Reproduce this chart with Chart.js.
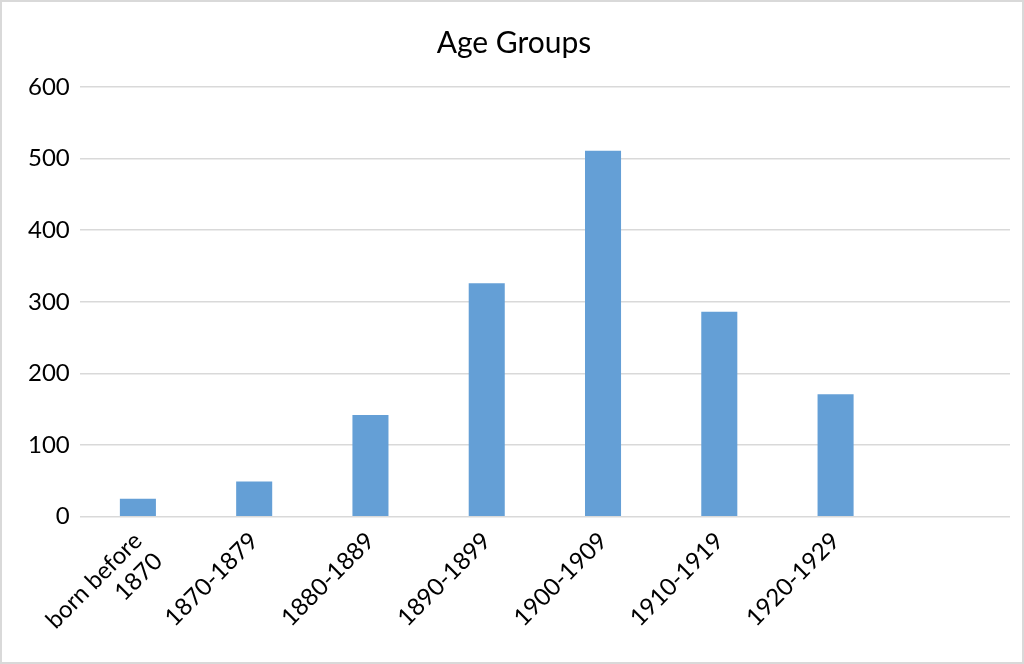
<!DOCTYPE html>
<html>
<head>
<meta charset="utf-8">
<script src="https://cdn.jsdelivr.net/npm/chart.js@4/dist/chart.umd.min.js"></script>
<style>
  html, body { margin: 0; padding: 0; background: #fff; }
  #wrap { width: 1024px; height: 664px; box-sizing: border-box; border: 2px solid #d9d9d9; }
</style>
</head>
<body>
<div id="wrap"><canvas id="ageChart" width="1020" height="660"></canvas></div>
<script>
// chart data
const categories = [['born before', '1870'], '1870-1879', '1880-1889', '1890-1899', '1900-1909', '1910-1919', '1920-1929', ''];
const counts = [25, 49, 142, 326, 511, 286, 171, null];
const yTicks = [0, 100, 200, 300, 400, 500, 600];

function initAgeChart() {
    const ctx = document.getElementById('ageChart').getContext('2d');
    Chart.defaults.font.family = 'Lato, "Open Sans", sans-serif';
    Chart.defaults.color = '#000';
    new Chart(ctx, {
        type: 'bar',
        data: {
            labels: categories,
            datasets: [{
                label: 'Age Groups',
                data: counts,
                backgroundColor: '#649fd6',
                barPercentage: 0.62,
                categoryPercentage: 0.5
            }]
        },
        options: {
            responsive: false,
            animation: false,
            layout: { padding: { left: 16, right: 12, top: 10, bottom: 5 } },
            plugins: {
                legend: { display: false },
                tooltip: { enabled: false },
                title: {
                    display: true,
                    text: 'Age Groups',
                    font: { size: 30, weight: 'normal' },
                    padding: { top: 13, bottom: 26 }
                }
            },
            scales: {
                x: {
                    grid: { display: false },
                    border: { display: false },
                    ticks: {
                        font: { size: 24 },
                        minRotation: 45,
                        maxRotation: 45,
                        autoSkip: false,
                        padding: 2
                    }
                },
                y: {
                    min: 0,
                    max: 600,
                    afterBuildTicks: (axis) => { axis.ticks = yTicks.map(v => ({ value: v })); },
                    grid: { color: '#d9d9d9', lineWidth: 1.5, drawTicks: false },
                    border: { display: false },
                    ticks: { font: { size: 24 }, padding: 10 }
                }
            }
        }
    });
}

window.onload = () => {
    initAgeChart();
};
</script>
</body>
</html>
